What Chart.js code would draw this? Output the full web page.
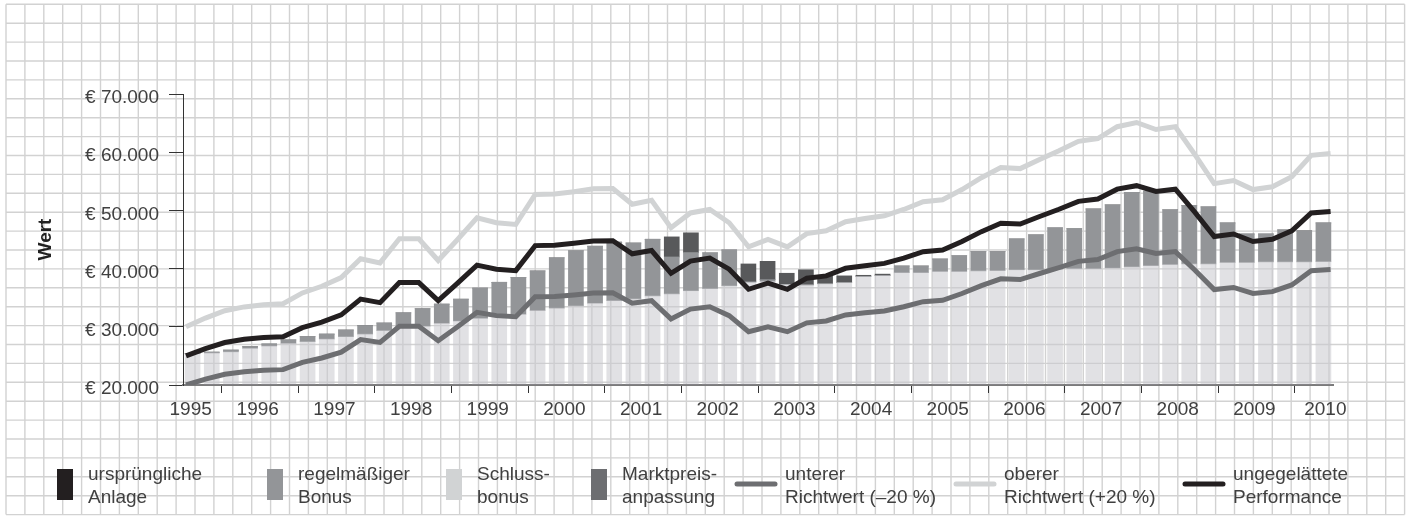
<!DOCTYPE html>
<html>
<head>
<meta charset="utf-8">
<script src="https://cdn.jsdelivr.net/npm/chart.js@4.4.1/dist/chart.umd.min.js"></script>
<style>
  html, body { margin: 0; padding: 0; background: #fff; }
  canvas { display: block; }
</style>
</head>
<body>
<canvas id="chart" width="1412" height="531"></canvas>
<script>
// quarterly values, mid 1995 to mid 2010
var quarters = [
  "1995 Q3", "1995 Q4",
  "1996 Q1", "1996 Q2", "1996 Q3", "1996 Q4",
  "1997 Q1", "1997 Q2", "1997 Q3", "1997 Q4",
  "1998 Q1", "1998 Q2", "1998 Q3", "1998 Q4",
  "1999 Q1", "1999 Q2", "1999 Q3", "1999 Q4",
  "2000 Q1", "2000 Q2", "2000 Q3", "2000 Q4",
  "2001 Q1", "2001 Q2", "2001 Q3", "2001 Q4",
  "2002 Q1", "2002 Q2", "2002 Q3", "2002 Q4",
  "2003 Q1", "2003 Q2", "2003 Q3", "2003 Q4",
  "2004 Q1", "2004 Q2", "2004 Q3", "2004 Q4",
  "2005 Q1", "2005 Q2", "2005 Q3", "2005 Q4",
  "2006 Q1", "2006 Q2", "2006 Q3", "2006 Q4",
  "2007 Q1", "2007 Q2", "2007 Q3", "2007 Q4",
  "2008 Q1", "2008 Q2", "2008 Q3", "2008 Q4",
  "2009 Q1", "2009 Q2", "2009 Q3", "2009 Q4",
  "2010 Q1", "2010 Q2"
];
var years = [1995, 1996, 1997, 1998, 1999, 2000, 2001, 2002, 2003, 2004, 2005, 2006, 2007, 2008, 2009, 2010];
var yTicks = [20000, 30000, 40000, 50000, 60000, 70000];

// bar segments (stacked)
var anlage = [
  20000, 20000, 20000, 20000, 20000, 20000, 20000, 20000, 20000, 20000,
  20000, 20000, 20000, 20000, 20000, 20000, 20000, 20000, 20000, 20000,
  20000, 20000, 20000, 20000, 20000, 20000, 20000, 20000, 20000, 20000,
  20000, 20000, 20000, 20000, 20000, 20000, 20000, 20000, 20000, 20000,
  20000, 20000, 20000, 20000, 20000, 20000, 20000, 20000, 20000, 20000,
  20000, 20000, 20000, 20000, 20000, 20000, 20000, 20000, 20000, 20000
];
var schlussbonus = [
  5400, 5500, 5700, 6300, 6700, 7150, 7450, 7900, 8300, 8750,
  9350, 9900, 10100, 10600, 11000, 11450, 11750, 12150, 12800, 13200,
  13600, 14050, 14500, 14800, 15300, 15650, 16200, 16550, 17050, 17700,
  17800, 17300, 17200, 17400, 17600, 18650, 18800, 19300, 19300, 19500,
  19500, 19600, 19650, 19800, 19800, 19900, 20000, 20000, 20100, 20300,
  20500, 20700, 20800, 20800, 21050, 21050, 21150, 21150, 21150, 21200
];
var regelBonus = [
  0, 150, 300, 300, 350, 600, 850, 850, 1150, 1450,
  1300, 2500, 3000, 3300, 3750, 5200, 5900, 6350, 6800, 8650,
  9450, 9800, 10050, 9600, 9750, 6350, 6550, 6150, 6150, 0,
  300, 0, 0, 0, 0, 0, 0, 1150, 1150, 2150,
  2700, 3350, 3300, 5300, 6000, 7100, 6850, 10250, 10850, 12800,
  12800, 9400, 10050, 9800, 6800, 4900, 4800, 5500, 5350, 6650
];
var marktpreis = [
  0, 0, 0, 0, 0, 0, 0, 0, 0, 0,
  0, 0, 0, 0, 0, 0, 0, 0, 0, 0,
  0, 0, 0, 0, 0, 3450, 3400, 0, 0, 3100,
  3150, 1900, 2600, 1350, 1150, 200, 250, 0, 0, 0,
  0, 0, 0, 0, 0, 0, 0, 0, 0, 0,
  0, 0, 0, 0, 0, 0, 0, 0, 0, 0
];

// lines
var performance = [
  25000, 26250, 27300, 27850, 28150, 28300, 29850, 30800, 32050, 34750,
  34150, 37600, 37600, 34500, 37500, 40600, 39900, 39650, 43950, 44000,
  44350, 44750, 44800, 42550, 43100, 39200, 41300, 41800, 39900, 36450,
  37500, 36450, 38350, 38750, 40050, 40500, 40900, 41800, 42900, 43200,
  44650, 46350, 47800, 47650, 48950, 50200, 51550, 51950, 53650, 54250,
  53250, 53650, 49700, 45500, 45950, 44650, 45050, 46500, 49550, 49800
];
var unterer = [
  20000, 21000, 21840, 22280, 22520, 22640, 23880, 24640, 25640, 27800,
  27320, 30080, 30080, 27600, 30000, 32480, 31920, 31720, 35160, 35200,
  35480, 35800, 35840, 34040, 34480, 31360, 33040, 33440, 31920, 29160,
  30000, 29160, 30680, 31000, 32040, 32400, 32720, 33440, 34320, 34560,
  35720, 37080, 38240, 38120, 39160, 40160, 41240, 41560, 42920, 43400,
  42600, 42920, 39760, 36400, 36760, 35720, 36040, 37200, 39640, 39840
];
var oberer = [
  30000, 31500, 32760, 33420, 33780, 33960, 35820, 36960, 38460, 41700,
  40980, 45120, 45120, 41400, 45000, 48720, 47880, 47580, 52740, 52800,
  53220, 53700, 53760, 51060, 51720, 47040, 49560, 50160, 47880, 43740,
  45000, 43740, 46020, 46500, 48060, 48600, 49080, 50160, 51480, 51840,
  53580, 55620, 57360, 57180, 58740, 60240, 61860, 62340, 64380, 65100,
  63900, 64380, 59640, 54600, 55140, 53580, 54060, 55800, 59460, 59760
];

var FONT = '"Liberation Sans", Arial, sans-serif';
var TEXT = "#404040";

// line axis: point 0 sits at the left edge of the first bar, last point at the right edge of the last bar
var X2_MIN = -0.155;
var X2_MAX = 59.125;
function catToX2(c) {
  return X2_MIN + c * (X2_MAX - X2_MIN) / quarters.length;
}

function euro(v) {
  return "€ " + String(v).replace(/\B(?=(\d{3})+(?!\d))/g, ".");
}

function asPoints(arr) {
  return arr.map(function (v, i) { return { x: i, y: v }; });
}

var paperPlugin = {
  id: "paper",
  beforeDraw: function (chart) {
    var ctx = chart.ctx;
    var step = 18.9, x0 = 6, y0 = 4.3;
    ctx.save();
    ctx.fillStyle = "#fff";
    ctx.fillRect(0, 0, chart.width, chart.height);
    ctx.strokeStyle = "#d2d2d2";
    ctx.lineWidth = 1.4;
    ctx.beginPath();
    for (var i = 0; i <= 74; i++) {
      var x = x0 + i * step;
      ctx.moveTo(x, y0);
      ctx.lineTo(x, y0 + 27 * step);
    }
    for (var j = 0; j <= 27; j++) {
      var y = y0 + j * step;
      ctx.moveTo(x0, y);
      ctx.lineTo(x0 + 74 * step, y);
    }
    ctx.stroke();
    ctx.restore();
  }
};

var legendPlugin = {
  id: "twoLineLegend",
  afterDraw: function (chart, args, opts) {
    var ctx = chart.ctx;
    ctx.save();
    ctx.font = "19px " + FONT;
    ctx.fillStyle = TEXT;
    ctx.textBaseline = "alphabetic";
    opts.items.forEach(function (dsIndex, n) {
      var ds = chart.data.datasets[dsIndex];
      var x = opts.xs[n];
      var tx;
      if (ds.type === "line") {
        ctx.strokeStyle = ds.borderColor;
        ctx.lineWidth = 5;
        ctx.lineCap = "round";
        ctx.beginPath();
        ctx.moveTo(x + 2, 484);
        ctx.lineTo(x + 40, 484);
        ctx.stroke();
        tx = x + 50;
      } else {
        ctx.fillStyle = ds.legendColor;
        ctx.fillRect(x, 469, 16, 31);
        tx = x + 31;
      }
      ctx.fillStyle = TEXT;
      var lines = ds.label.split("\n");
      ctx.fillText(lines[0], tx, 479.5);
      ctx.fillText(lines[1], tx, 502.5);
    });
    ctx.restore();
  }
};

function barSet(label, data, color, legendColor) {
  return {
    label: label,
    data: data,
    stack: "bars",
    grouped: false,
    barThickness: 15,
    backgroundColor: color,
    legendColor: legendColor,
  };
}

function lineSet(label, data, color, stack, order) {
  return {
    type: "line",
    label: label,
    data: asPoints(data),
    xAxisID: "x2",
    stack: stack,
    order: order,
    borderColor: color,
    borderWidth: 5,
    pointRadius: 0,
    tension: 0,
    fill: false,
  };
}

var chart = new Chart(document.getElementById("chart"), {
  type: "bar",
  data: {
    labels: quarters,
    datasets: [
      barSet("ursprüngliche\nAnlage", anlage, "#231f20", "#231f20"),
      barSet("Schluss-\nbonus", schlussbonus, "rgba(200, 201, 205, 0.55)", "#d1d3d4"),
      barSet("regelmäßiger\nBonus", regelBonus, "#939598", "#939598"),
      barSet("Marktpreis-\nanpassung", marktpreis, "#58595b", "#6d6e71"),
      lineSet("unterer\nRichtwert (–20 %)", unterer, "#6d6e71", "low", -2),
      lineSet("oberer\nRichtwert (+20 %)", oberer, "#d1d3d4", "high", -1),
      lineSet("ungegelättete\nPerformance", performance, "#231f20", "perf", -3),
    ],
  },
  options: {
    responsive: false,
    animation: false,
    devicePixelRatio: 1,
    layout: { padding: { top: 94, right: 79, bottom: 0, left: 0 } },
    plugins: {
      legend: { display: false },
      tooltip: { enabled: false },
      twoLineLegend: {
        items: [0, 2, 1, 3, 4, 5, 6],
        xs: [57, 267, 446, 591, 735, 954, 1183],
      },
    },
    scales: {
      x: {
        type: "category",
        display: false,
        stacked: true,
        offset: true,
        grid: { offset: true },
      },
      x2: {
        type: "linear",
        position: "bottom",
        min: X2_MIN,
        max: X2_MAX,
        offset: false,
        bounds: "data",
        z: 1,
        afterBuildTicks: function (scale) {
          var t = [];
          years.forEach(function (yr, k) {
            var c = k === 0 ? 0.4 : (k === years.length - 1 ? 59.6 : 4 * k - 0.1);
            t.push({ value: catToX2(c), lab: String(yr), sep: false });
            if (k > 0) t.push({ value: catToX2(4 * k - 2), lab: "", sep: true });
          });
          t.sort(function (a, b) { return a.value - b.value; });
          scale.ticks = t;
        },
        afterFit: function (scale) { scale.height = 146; },
        grid: {
          offset: false,
          drawOnChartArea: false,
          drawTicks: true,
          tickLength: 8,
          lineWidth: 1,
          color: function (c) { return c.tick && c.tick.sep ? "#333" : "rgba(0,0,0,0)"; },
        },
        border: { display: true, color: "#7b7b7b", width: 2 },
        ticks: {
          autoSkip: false,
          maxRotation: 0,
          padding: 5,
          color: TEXT,
          font: { family: FONT, size: 19 },
          callback: function (v, i, ticks) { return ticks[i].sep ? "" : ticks[i].lab; },
        },
      },
      y: {
        stacked: true,
        min: 20000,
        max: 70000,
        afterFit: function (scale) { scale.width = 183; },
        afterBuildTicks: function (scale) {
          scale.ticks = yTicks.map(function (v) { return { value: v }; });
        },
        grid: {
          drawOnChartArea: false,
          drawTicks: true,
          tickLength: 14,
          color: "#333",
          lineWidth: 1,
        },
        border: { display: true, color: "#333", width: 1 },
        ticks: {
          padding: 10,
          labelOffset: 4,
          color: TEXT,
          font: { family: FONT, size: 19 },
          callback: function (v) { return euro(v); },
        },
        title: {
          display: true,
          text: "Wert",
          color: "#222",
          font: { family: FONT, size: 19, weight: "bold" },
          padding: { top: 34, bottom: 0 },
        },
      },
    },
  },
  plugins: [paperPlugin, legendPlugin],
});
</script>
</body>
</html>
